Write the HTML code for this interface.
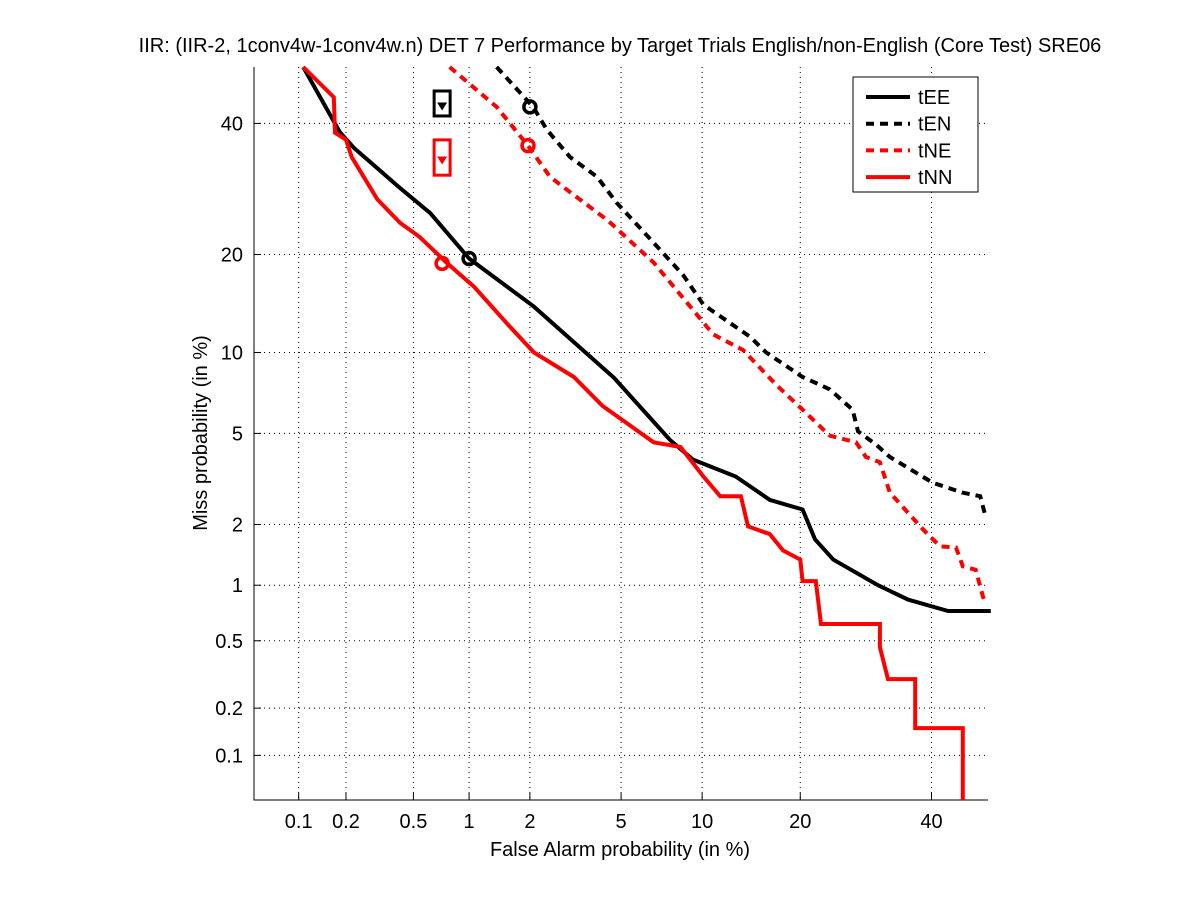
<!DOCTYPE html>
<html><head><meta charset="utf-8"><style>
body{margin:0;background:#fff}
svg{display:block;font-family:"Liberation Sans",sans-serif}
</style></head><body>
<svg id="c" width="1201" height="900" viewBox="0 0 1201 900"></svg>
<script>
const xTicks=[0.1,0.2,0.5,1,2,5,10,20,40];
const yTicks=[0.1,0.2,0.5,1,2,5,10,20,40];
const tEE_fa=[0.107,0.183,0.224,0.418,0.62,1.0,2.09,4.68,7.7,9.3,12.9,16.4,20.3,21.9,24.4,31.1,36,42.9,50.5];
const tEE_miss=[50,38.5,35.8,29.4,25.6,19.5,14.1,8.15,4.7,3.9,3.3,2.6,2.35,1.7,1.35,1.0,0.84,0.73,0.73];
const tEN_fa=[1.38,2.07,2.4,3.05,3.98,4.8,6.7,8.6,10.1,14.3,16.0,20.3,23.9,27.2,28.0,30.8,33.0,40.2,45.5,48.6,49.6];
const tEN_miss=[50,42.9,38.9,34.3,31.1,27.1,21.5,17.5,14.3,11.3,10.0,8.2,7.4,6.2,5.1,4.5,4.0,3.1,2.8,2.7,2.16];
const tNE_fa=[0.79,1.06,1.38,1.96,2.48,3.05,4.4,6.7,8.8,10.9,13.6,17.1,20.3,23.9,27.7,29.2,31.4,33.0,35.2,38.5,41.5,44.3,45.5,47.8,49.1,49.6];
const tNE_miss=[50,46.3,42.9,36.2,31.1,28.7,24.6,19.0,14.6,11.5,10.2,7.7,6.2,4.9,4.6,4.0,3.8,2.8,2.4,1.9,1.57,1.55,1.25,1.2,0.87,0.8];
const tNN_fa=[0.107,0.168,0.171,0.2,0.217,0.31,0.42,0.54,0.76,1.06,1.6,2.09,3.17,4.2,6.7,8.4,10.1,11.5,13.4,14.1,16.4,17.9,20.0,20.3,22.0,22.7,31.4,31.4,32.7,37.2,37.2,45.5,45.5];
const tNN_miss=[50,44.6,38.4,37.2,34.3,27.6,24.2,22.3,19.0,16.2,12.2,10.0,8.2,6.4,4.6,4.4,3.3,2.7,2.7,1.96,1.8,1.5,1.35,1.05,1.05,0.62,0.62,0.46,0.30,0.30,0.15,0.15,0.05];
const dcfPts={tEE:[1.0,19.5],tEN:[2.0,42.9],tNE:[1.96,36.2],tNN:[0.72,18.9]};

function ninv(p){const a=[-39.6968302866538,220.946098424521,-275.928510446969,138.357751867269,-30.6647980661472,2.50662827745924],b=[-54.4760987982241,161.585836858041,-155.698979859887,66.8013118877197,-13.2806815528857],c=[-0.00778489400243029,-0.322396458041136,-2.40075827716184,-2.54973253934373,4.37466414146497,2.93816398269878],d=[0.00778469570904146,0.32246712907004,2.445134137143,3.75440866190742];let q,r;if(p<0.02425){q=Math.sqrt(-2*Math.log(p));return(((((c[0]*q+c[1])*q+c[2])*q+c[3])*q+c[4])*q+c[5])/((((d[0]*q+d[1])*q+d[2])*q+d[3])*q+1);}if(p>1-0.02425){q=Math.sqrt(-2*Math.log(1-p));return-(((((c[0]*q+c[1])*q+c[2])*q+c[3])*q+c[4])*q+c[5])/((((d[0]*q+d[1])*q+d[2])*q+d[3])*q+1);}q=p-0.5;r=q*q;return(((((a[0]*r+a[1])*r+a[2])*r+a[3])*r+a[4])*r+a[5])*q/(((((b[0]*r+b[1])*r+b[2])*r+b[3])*r+b[4])*r+1);}
const L=254,R=988,T=67,B=800,zmin=ninv(0.0005),zmax=0;
function xs(v){return L+(ninv(v/100)-zmin)/(zmax-zmin)*(R-L);}
function ys(v){return B-(ninv(v/100)-zmin)/(zmax-zmin)*(B-T);}
const svg=document.getElementById('c');const NS='http://www.w3.org/2000/svg';
function mk(t,at,p){const e=document.createElementNS(NS,t);for(const k in at)e.setAttribute(k,at[k]);(p||svg).appendChild(e);return e;}
xTicks.forEach(v=>{const x=xs(v);
const g=mk('line',{x1:x,x2:x,y1:T,y2:B,stroke:'#000','stroke-width':1,'stroke-dasharray':'1,4'});


mk('line',{x1:x,x2:x,y1:B,y2:B-7,stroke:'#000'});
const t=mk('text',{x:x,y:B+28,'text-anchor':'middle','font-size':20});t.textContent=v;

});
yTicks.forEach(v=>{const y=ys(v);
const g=mk('line',{x1:L,x2:R,y1:y,y2:y,stroke:'#000','stroke-width':1,'stroke-dasharray':'1,4'});


mk('line',{x1:L,x2:L+7,y1:y,y2:y,stroke:'#000'});
const t=mk('text',{x:L-11,y:y+7,'text-anchor':'end','font-size':20});t.textContent=v;

});
const ax=mk('path',{d:`M${L},${T}V${B}H${R}`,fill:'none',stroke:'#000','stroke-width':1});


const series=[['tEE',tEE_fa,tEE_miss,'#000',''],['tEN',tEN_fa,tEN_miss,'#000','8,6'],['tNE',tNE_fa,tNE_miss,'#f00','8,6'],['tNN',tNN_fa,tNN_miss,'#f00','']];
series.forEach(s=>{const pts=s[1].map((f,i)=>xs(f).toFixed(1)+','+ys(s[2][i]).toFixed(1)).join(' ');
const p=mk('polyline',{points:pts,fill:'none',stroke:s[3],'stroke-width':4,'stroke-dasharray':s[4],'stroke-linejoin':'miter'});


const d=dcfPts[s[0]];const c=mk('circle',{cx:xs(d[0]),cy:ys(d[1]),r:6,fill:'none',stroke:s[3],'stroke-width':3.5});

});
[[0.72,45,42,'#000'],[0.72,36.5,32,'#f00']].forEach(b=>{const x=xs(b[0]);const y1=ys(b[1]),y2=ys(b[2]);
const r=mk('rect',{x:x-8,y:y1-4,width:16,height:y2-y1+8,fill:'none',stroke:b[3],'stroke-width':3});


const yc=(y1+y2)/2+3;mk('path',{d:`M${x-5},${yc-4}L${x+5},${yc-4}L${x},${yc+4}Z`,fill:b[3]});});
const tt=mk('text',{x:620,y:52,'text-anchor':'middle','font-size':20});tt.textContent='IIR: (IIR-2, 1conv4w-1conv4w.n) DET 7 Performance by Target Trials English/non-English (Core Test) SRE06';


const xl=mk('text',{x:620,y:856,'text-anchor':'middle','font-size':20});xl.textContent='False Alarm probability (in %)';


const yl=mk('text',{x:0,y:0,'text-anchor':'middle','font-size':20,transform:'translate(207,433) rotate(-90)'});yl.textContent='Miss probability (in %)';


const lg=mk('g',{});
mk('rect',{x:853,y:77,width:125,height:115,fill:'#fff',stroke:'#000'},lg);
series.forEach((s,i)=>{const y=97+i*26.7;
const e=mk('g',{},lg);
mk('line',{x1:866,x2:910,y1:y,y2:y,stroke:s[3],'stroke-width':4,'stroke-dasharray':s[4]},e);
const t=mk('text',{x:918,y:y+7,'font-size':20},e);t.textContent=s[0];});
</script>
</body></html>
